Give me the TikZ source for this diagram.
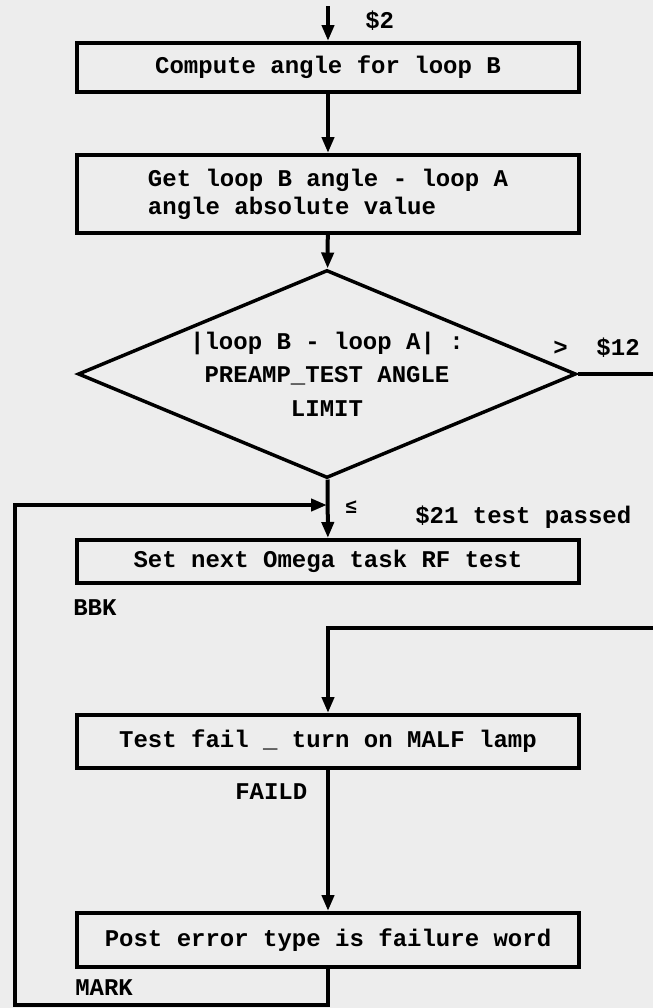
\documentclass[tikz,border=0pt]{standalone}
\usepackage{fontspec}
\setmonofont{Liberation Mono}
\usepackage{tikz}
\usetikzlibrary{positioning,shapes.geometric,arrows.meta}

\tikzset{
  flowbox/.style={draw, line width=3pt, rectangle, minimum width=376.5pt, inner sep=0pt},
  flowdec/.style={draw, line width=2.6pt, diamond, aspect=2.4, inner sep=0pt, minimum width=373.5pt, minimum height=156pt, align=center},
  flowline/.style={line width=3pt},
  flowarr/.style={line width=3pt, -{Triangle[length=12pt,width=9pt]}},
  tag/.style={inner sep=0pt, anchor=west}
}

\begin{document}
\begin{tikzpicture}[x=0.75pt, y=-0.75pt, font=\ttfamily\bfseries\fontsize{18}{21}\selectfont]
\fill[black!7] (0,0) rectangle (653,1008);
\useasboundingbox (0,0) rectangle (653,1008);

\node[flowbox, minimum height=36.75pt] (compute) at (328,67.5) {Compute angle for loop B};
\node[flowbox, minimum height=58.5pt, align=left] (getang) at (328,194) {Get loop B angle - loop A\\angle absolute value};
\node[flowdec, font=\ttfamily\bfseries\fontsize{18}{25}\selectfont] (cmp) at (327,374) {|loop B - loop A| :\\PREAMP\_TEST ANGLE\\LIMIT};
\node[flowbox, minimum height=32.25pt] (setnext) at (328,561.5) {Set next Omega task RF test};
\node[flowbox, minimum height=39.75pt] (testfail) at (328,741.5) {Test fail \_ turn on MALF lamp};
\node[flowbox, minimum height=40.5pt] (posterr) at (328,940) {Post error type is failure word};

% labels
\node[tag] (lbltwo) at (365,21) {\$2};
\node[tag] (lblgt) at (553,348) {>~~\$12};
\node[tag] (lblle) at (345,507) {\fontsize{15}{15}\selectfont ≤};
\node[tag] (lblpass) at (415,517) {\$21 test passed};
\node[tag] (lblbbk) at (73,608) {BBK};
\node[tag] (lblfaild) at (235,792) {FAILD};
\node[tag] (lblmark) at (75,988) {MARK};

% connector end points
\coordinate (entry) at (328,6);
\coordinate (eastout) at (656,374);
\coordinate (eastin) at (656,628);
\coordinate (loopbot) at (15,1005);
\coordinate (looptop) at (15,505);
\coordinate (merge) at (327,505);

\draw[flowarr] (entry) -- (compute);
\draw[flowarr] (compute) -- (getang);
\draw[flowarr] (getang) -- (cmp);
\draw[flowarr] (cmp) -- (setnext);
\draw[flowline] (cmp.east) -- (eastout);
\draw[flowarr] (eastin) -| (testfail.north);
\draw[flowarr] (testfail) -- (posterr);
\draw[flowarr] (posterr.south) |- (loopbot) -- (looptop) -- (merge);

\end{tikzpicture}
\end{document}
